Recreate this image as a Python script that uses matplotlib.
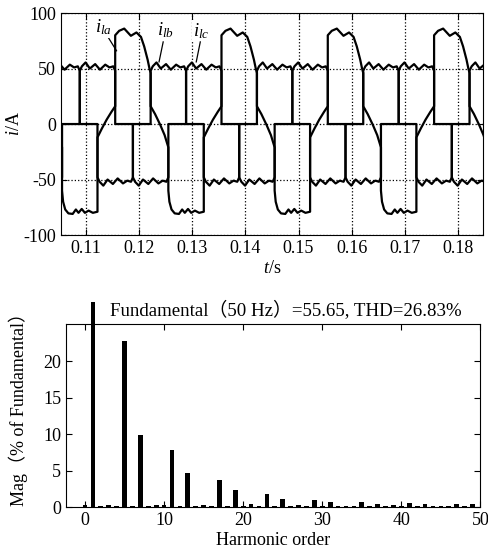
import numpy as np
import matplotlib
matplotlib.use('Agg')
from matplotlib import pyplot as plt
from matplotlib.patches import Rectangle

# 字体设置
plt.rcParams['font.family'] = ['Liberation Serif', 'Noto Sans CJK SC']
plt.rcParams['mathtext.fontset'] = 'custom'
plt.rcParams['mathtext.it'] = 'Liberation Serif:italic'
plt.rcParams['mathtext.rm'] = 'Liberation Serif'
plt.rcParams['axes.unicode_minus'] = False
plt.rcParams['font.size'] = 13

# 波形数据（一个周期，单位 ms / A）
T0 = 0.1155          # i_la 上升沿时刻 (s)
PERIOD_MS = 20.0
SHIFT_MS = {'a': 0.0, 'b': 6.667, 'c': 13.333}

WAVE_A_MS = [0, 0, 0.75, 1.7, 2.95, 4.0, 4.85, 5.45, 6.1, 6.45, 6.67, 6.67,
             7.5, 8.5, 9.3, 10.0, 10.0, 10.2, 10.6, 11.2, 12.0, 12.6, 13.1,
             13.7, 14.3, 15.0, 15.8, 16.67, 16.67, 17.5, 18.4, 19.3, 20.0]
WAVE_A = [16, 80, 84, 86, 79.5, 82.5, 78.5, 70, 58, 50, 46, 16,
          9, -1, -10, -21, -60, -70, -77, -80.5, -81, -77, -80,
          -76.5, -80, -78, -80, -79, -12, -4, 4, 11, 16]

WAVE_BC_MS = [0, 0, 0.4, 1.1, 1.9, 2.9, 3.8, 4.8, 5.6, 6.3, 6.67, 6.67,
              10.0, 10.0, 10.4, 11.1, 11.9, 12.9, 13.8, 14.8, 15.6, 16.3,
              16.67, 16.67, 20.0]
WAVE_BC = [0, 48, 52, 55.5, 50, 54, 49, 53.5, 51, 52, 48, 0,
           0, -48, -52, -55.5, -50, -54, -49, -53.5, -51, -52,
           -48, 0, 0]

# 谐波数据（0~50 次，% of Fundamental）
ORDERS = list(range(51))
MAGS = [0.4, 100, 0.2, 0.3, 0.2, 22.8, 0.15, 9.9, 0.2, 0.3,
        0.4, 7.9, 0.15, 4.7, 0.2, 0.3, 0.2, 3.7, 0.15, 2.45,
        0.2, 0.5, 0.15, 1.8, 0.15, 1.2, 0.15, 0.3, 0.15, 1.0,
        0.2, 0.75, 0.15, 0.15, 0.15, 0.7, 0.15, 0.45, 0.15, 0.35,
        0.15, 0.6, 0.15, 0.45, 0.15, 0.15, 0.15, 0.45, 0.15, 0.45,
        0.1]

X_TICKS = [0.11, 0.12, 0.13, 0.14, 0.15, 0.16, 0.17, 0.18]
Y_TICKS = [-100, -50, 0, 50, 100]


def tile(ms, vals, shift_ms):
    # 按周期平铺波形
    t_all, v_all = [], []
    for k in range(-2, 5):
        base = T0 + (shift_ms + k * PERIOD_MS) / 1000.0
        t_all += [base + m / 1000.0 for m in ms]
        v_all += list(vals)
    return t_all, v_all


fig = plt.figure(figsize=(4.89, 5.53), dpi=100)

# 上图：负载电流
ax1 = fig.add_axes([0.1247, 0.575, 0.863, 0.4014])
for ph in ['a', 'b', 'c']:
    if ph == 'a':
        t, v = tile(WAVE_A_MS, WAVE_A, SHIFT_MS[ph])
    else:
        t, v = tile(WAVE_BC_MS, WAVE_BC, SHIFT_MS[ph])
    ax1.plot(t, v, color='black', lw=1.6, solid_joinstyle='round')

ax1.set_xlim(0.1053, 0.1847)
ax1.set_ylim(-100, 100)
ax1.set_xticks(X_TICKS)
ax1.set_xticklabels([f'{x:.2f}' for x in X_TICKS])
ax1.set_yticks(Y_TICKS)
ax1.grid(True, linestyle=':', color='black', lw=0.9)
ax1.tick_params(direction='in', top=True, right=True, length=4)
ax1.set_xlabel('$t$/s', labelpad=2)
ax1.set_ylabel('$i$/A', labelpad=0)

# 相电流标注
labels = [('$i_{la}$', (0.11320, 87), (0.1142, 78), (0.11575, 66)),
          ('$i_{lb}$', (0.12490, 85), (0.12453, 74), (0.12375, 56)),
          ('$i_{lc}$', (0.13170, 84), (0.13151, 74), (0.13075, 56))]
for txt, pos, p0, p1 in labels:
    ax1.text(pos[0], pos[1], txt, ha='center', va='center', fontsize=13.5,
             bbox=dict(facecolor='white', edgecolor='none', pad=0.5))
    ax1.plot([p0[0], p1[0]], [p0[1], p1[1]], color='black', lw=0.9)

# 下图：谐波频谱
ax2 = fig.add_axes([0.135, 0.0823, 0.8476, 0.331])
bars = ax2.bar(ORDERS, MAGS, width=0.6, color='black')
clip = Rectangle((0, 0), 1, 1.12, transform=ax2.transAxes)
for b in bars:
    b.set_clip_path(clip)
ax2.set_xlim(-2.4, 50)
ax2.set_ylim(0, 25)
ax2.set_xticks([0, 10, 20, 30, 40, 50])
ax2.set_yticks([0, 5, 10, 15, 20])
ax2.tick_params(direction='in', top=True, right=True, length=4)
ax2.set_xlabel('Harmonic order', labelpad=2)
ax2.set_ylabel('Mag（% of Fundamental）')
ax2.yaxis.set_label_coords(-0.092, 0.56)
ax2.set_title('Fundamental（50 Hz）=55.65, THD=26.83%', fontsize=13.6,
              pad=6, x=0.531)

fig.savefig('out.png', dpi=100)
